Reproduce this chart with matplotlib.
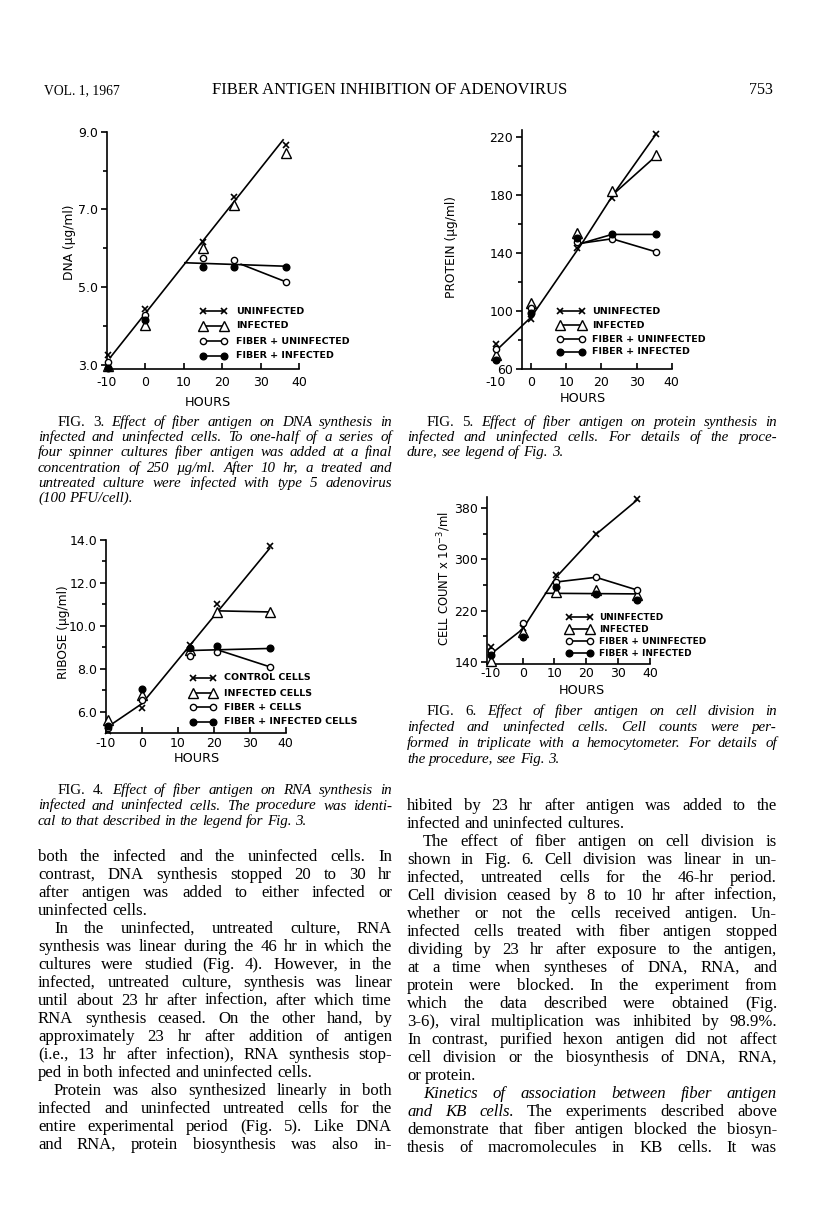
import matplotlib
matplotlib.use("Agg")
import matplotlib.pyplot as plt
from matplotlib.lines import Line2D

W, H = 816, 1227
SERIF = "Liberation Serif"
SANS = "DejaVu Sans"

hours_ticks = [-10, 0, 10, 20, 30, 40]

# Fig. 3  DNA
dna_hours = [-9.6, 0, 15, 23, 36.5]
dna_uninf = [3.25, 4.45, 6.17, 7.31, 8.66]
dna_inf = [2.97, 4.02, 6.0, 7.11, 8.44]
dna_fib_uninf = [3.08, 4.28, 5.76, 5.70, 5.14]
dna_fib_inf = [2.92, 4.15, 5.52, 5.52, 5.52]
dna_main_x, dna_main_y = [-9.1, 35.8], [3.19, 8.79]
dna_flat_x, dna_flat_y = [10.3, 36.6], [5.63, 5.54]
dna_fu_x, dna_fu_y = [24.9, 36.5], [5.59, 5.14]

# Fig. 4  RNA (ribose)
rna_hours = [-9.5, 0, 13.5, 21, 35.5]
rna_control = [5.1, 6.2, 9.1, 11.0, 13.7]
rna_inf = [5.6, 6.8, 8.9, 10.65, 10.65]
rna_fib = [5.25, 6.55, 8.6, 8.8, 8.1]
rna_fib_inf = [5.35, 7.05, 8.95, 9.05, 8.95]
rna_main_x, rna_main_y = [-9.5, 0, 35.5], [5.3, 6.38, 13.6]
rna_inf_x, rna_inf_y = [21.5, 35.5], [10.7, 10.65]
rna_flat_x, rna_flat_y = [12.2, 35.5], [8.85, 8.95]
rna_fu_x, rna_fu_y = [21.5, 35.5], [8.86, 8.1]

# Fig. 5  protein
prot_hours = [-10, 0, 13, 23, 35.5]
prot_uninf = [77.5, 94.5, 143.5, 178, 222]
prot_inf = [70, 106, 154, 183, 207.5]
prot_fib_uninf = [74, 102, 147.5, 150, 141]
prot_fib_inf = [66.5, 98.5, 150.5, 153.5, 153.5]
prot_main_x, prot_main_y = [-9.5, 0, 14.5, 23.5, 35.5], [74, 96, 147, 181, 222]
prot_inf_x, prot_inf_y = [23.5, 35.5], [181, 207]
prot_fi_x, prot_fi_y = [14.5, 23, 35.5], [147, 153, 153]
prot_fu_x, prot_fu_y = [14.5, 23, 35.5], [147, 150, 141]

# Fig. 6  cell count
cell_hours = [-10, 0, 10.5, 23, 36]
cell_uninf = [163, 192, 275, 339, 394]
cell_inf = [141, 187, 249, 252, 244]
cell_fib_uninf = [157, 200, 265, 272, 252]
cell_fib_inf = [151, 179, 257, 246, 237]
cell_main_x, cell_main_y = [-10, 0, 10.5, 23, 36], [152, 191, 272, 339, 393]
cell_flat_x, cell_flat_y = [7.2, 36], [247, 246]
cell_fu_x, cell_fu_y = [9.5, 23, 36], [264, 272, 252]

MARK = {
    "x": dict(marker="x", ms=4.5, mew=1.2, mfc="k", mec="k"),
    "tri": dict(marker="^", ms=6.5, mew=1.0, mfc="white", mec="k"),
    "oc": dict(marker="o", ms=4.5, mew=1.0, mfc="white", mec="k"),
    "fc": dict(marker="o", ms=4.8, mew=1.0, mfc="k", mec="k"),
}

fig = plt.figure(figsize=(W / 100, H / 100), dpi=100)
fig.patch.set_facecolor("white")


def fx(x):
    return x / W


def fy(y):
    return 1 - y / H


def make_axes(left, top, right, bottom):
    return fig.add_axes([fx(left), fy(bottom), (right - left) / W, (bottom - top) / H])


def style(ax, xlim, ylim, yt, ylab, yminor, xpad=3):
    ax.set_xlim(*xlim)
    ax.set_ylim(*ylim)
    ax.patch.set_alpha(0)
    for s in ("top", "right"):
        ax.spines[s].set_visible(False)
    for s in ("left", "bottom"):
        ax.spines[s].set_linewidth(1.2)
    ax.set_xticks(hours_ticks)
    ax.set_xticklabels([str(t) for t in hours_ticks], family=SANS)
    ax.set_yticks(yt)
    ax.set_yticklabels(ylab, family=SANS)
    ax.set_yticks(yminor, minor=True)
    ax.tick_params(axis="x", direction="in", length=4, width=1.2, pad=xpad, labelsize=9)
    ax.tick_params(axis="y", direction="out", length=4.5, width=1.2, pad=2, labelsize=9)
    ax.tick_params(axis="y", which="minor", direction="out", length=3, width=1.2)


def points(ax, x, series):
    for ys, key in series:
        ax.plot(x, ys, ls="none", color="k", clip_on=False, zorder=3, **MARK[key])


def curves(ax, pairs):
    for xs, ys in pairs:
        ax.plot(xs, ys, color="k", lw=1.2, zorder=2, clip_on=False)


def legend(xm, gap, xt, rows_y, entries, size=6.8):
    for y, (key, label) in zip(rows_y, entries):
        fig.add_artist(Line2D([fx(xm), fx(xm + gap)], [fy(y), fy(y)], color="k", lw=1.2,
                              transform=fig.transFigure, **MARK[key]))
        fig.text(fx(xt), fy(y), label, fontsize=size, family=SANS, weight="bold",
                 va="center", ha="left")


def axis_labels(ylab, ypos, hpos, ysize=8.8):
    fig.text(fx(ypos[0]), fy(ypos[1]), ylab, rotation=90, ha="center", va="center",
             fontsize=ysize, family=SANS)
    fig.text(fx(hpos[0]), fy(hpos[1]), "HOURS", ha="center", va="center",
             fontsize=9.2, family=SANS)


# ---- Fig. 3
ax3 = make_axes(106.7, 131.7, 299.3, 369.3)
style(ax3, (-10, 40), (2.89, 9.0), [3, 5, 7, 9], ["3.0", "5.0", "7.0", "9.0"], [4, 6, 8], xpad=5)
curves(ax3, [(dna_main_x, dna_main_y), (dna_flat_x, dna_flat_y), (dna_fu_x, dna_fu_y)])
points(ax3, dna_hours, [(dna_uninf, "x"), (dna_inf, "tri"), (dna_fib_uninf, "oc"), (dna_fib_inf, "fc")])
legend(202.7, 21, 236, [311, 325.7, 341, 355.7],
       [("x", "UNINFECTED"), ("tri", "INFECTED"), ("oc", "FIBER + UNINFECTED"), ("fc", "FIBER + INFECTED")])
axis_labels("DNA (µg/ml)", (70, 242.7), (208, 402))

# ---- Fig. 4
ax4 = make_axes(106, 540, 285.7, 733.3)
style(ax4, (-10, 40), (5.0, 14.0), [6, 8, 10, 12, 14], ["6.0", "8.0", "10.0", "12.0", "14.0"], [7, 9, 11, 13], xpad=2.5)
curves(ax4, [(rna_main_x, rna_main_y), (rna_inf_x, rna_inf_y), (rna_flat_x, rna_flat_y), (rna_fu_x, rna_fu_y)])
points(ax4, rna_hours, [(rna_control, "x"), (rna_inf, "tri"), (rna_fib, "oc"), (rna_fib_inf, "fc")])
legend(192.7, 20, 224, [678, 693, 707, 722],
       [("x", "CONTROL CELLS"), ("tri", "INFECTED CELLS"), ("oc", "FIBER + CELLS"), ("fc", "FIBER + INFECTED CELLS")])
axis_labels("RIBOSE (µg/ml)", (63, 631.7), (196.7, 758))

# ---- Fig. 5
ax5 = make_axes(489, 130, 671.7, 369.3)
style(ax5, (-12, 40), (60, 225), [60, 100, 140, 180, 220], ["60", "100", "140", "180", "220"], [80, 120, 160, 200], xpad=4.5)
ax5.spines["left"].set_position(("data", -2.5))
ax5.spines["bottom"].set_bounds(-2.5, 40)
ax5.xaxis.get_major_ticks()[0].tick1line.set_visible(False)
curves(ax5, [(prot_main_x, prot_main_y), (prot_inf_x, prot_inf_y), (prot_fi_x, prot_fi_y), (prot_fu_x, prot_fu_y)])
points(ax5, prot_hours, [(prot_uninf, "x"), (prot_inf, "tri"), (prot_fib_uninf, "oc"), (prot_fib_inf, "fc")])
legend(560, 21.7, 592, [311, 325, 339, 352],
       [("x", "UNINFECTED"), ("tri", "INFECTED"), ("oc", "FIBER + UNINFECTED"), ("fc", "FIBER + INFECTED")])
axis_labels("PROTEIN (µg/ml)", (451, 246.7), (583.3, 398))

# ---- Fig. 6
ax6 = make_axes(487, 496.7, 650, 664)
style(ax6, (-11.2, 40), (136.4, 398), [140, 220, 300, 380], ["140", "220", "300", "380"], [180, 260, 340], xpad=2.5)
curves(ax6, [(cell_main_x, cell_main_y), (cell_flat_x, cell_flat_y), (cell_fu_x, cell_fu_y)])
points(ax6, cell_hours, [(cell_uninf, "x"), (cell_inf, "tri"), (cell_fib_uninf, "oc"), (cell_fib_inf, "fc")])
legend(569, 21, 599, [617, 629, 641, 653],
       [("x", "UNINFECTED"), ("tri", "INFECTED"), ("oc", "FIBER + UNINFECTED"), ("fc", "FIBER + INFECTED")], size=6.4)
axis_labels(r"CELL COUNT x 10$^{-3}$/ml", (444, 578.3), (581.7, 691), ysize=8.4)

# ---- text
renderer = fig.canvas.get_renderer()


def width(word, size, st):
    t = fig.text(0, 0, word, fontsize=size, family=SERIF, style=st)
    w = t.get_window_extent(renderer).width
    t.remove()
    return w


def parse(text, base):
    st = base
    words = []
    for tok in text.split():
        if tok == "|":
            st = "normal" if st == "italic" else "italic"
            continue
        words.append((tok, st))
    return words


def fit_size(blocks, size0):
    # font size at which the widest justified line just fills its column
    ratio = 10.0
    for rows, x0, x1, base in blocks:
        for text, ind, just in rows:
            if not just:
                continue
            words = parse(text, base)
            nat = sum(width(w, size0, s) for w, s in words) + (len(words) - 1) * size0 * 100 / 72 * 0.25
            ratio = min(ratio, (x1 - x0 - ind) / nat)
    return size0 * ratio


def typeset(rows, x0, x1, y0, dy, size, base="normal"):
    for i, (text, ind, just) in enumerate(rows):
        y = y0 + i * dy
        words = parse(text, base)
        ws = [width(w, size, s) for w, s in words]
        left = x0 + ind
        gap = size * 100 / 72 * 0.25
        if just and len(words) > 1:
            gap = (x1 - left - sum(ws)) / (len(words) - 1)
        x = left
        for (w, s), wd in zip(words, ws):
            fig.text(fx(x), fy(y), w, fontsize=size, family=SERIF, style=s, va="baseline")
            x += wd + gap


# header
fig.text(fx(44), fy(94), "VOL. 1, 1967", fontsize=9.8, family=SERIF, va="baseline")
fig.text(fx(390), fy(94), "FIBER ANTIGEN INHIBITION OF ADENOVIRUS", fontsize=12, family=SERIF,
         va="baseline", ha="center")
fig.text(fx(773), fy(94), "753", fontsize=11.5, family=SERIF, va="baseline", ha="right")

LX0, LX1 = 38, 392
RX0, RX1 = 407, 777

cap3 = [("| FIG. 3. | Effect of fiber antigen on DNA synthesis in", 20, True),
        ("infected and uninfected cells. To one-half of a series of", 0, True),
        ("four spinner cultures fiber antigen was added at a final", 0, True),
        ("concentration of 250 µg/ml. After 10 hr, a treated and", 0, True),
        ("untreated culture were infected with type 5 adenovirus", 0, True),
        ("(100 PFU/cell).", 0, False)]
cap4 = [("| FIG. 4. | Effect of fiber antigen on RNA synthesis in", 20, True),
        ("infected and uninfected cells. The procedure was identi-", 0, True),
        ("cal to that described in the legend for Fig. 3.", 0, False)]
cap5 = [("| FIG. 5. | Effect of fiber antigen on protein synthesis in", 20, True),
        ("infected and uninfected cells. For details of the proce-", 0, True),
        ("dure, see legend of Fig. 3.", 0, False)]
cap6 = [("| FIG. 6. | Effect of fiber antigen on cell division in", 20, True),
        ("infected and uninfected cells. Cell counts were per-", 0, True),
        ("formed in triplicate with a hemocytometer. For details of", 0, True),
        ("the procedure, see Fig. 3.", 0, False)]

left_col = [
    ("both the infected and the uninfected cells. In", 0, True),
    ("contrast, DNA synthesis stopped 20 to 30 hr", 0, True),
    ("after antigen was added to either infected or", 0, True),
    ("uninfected cells.", 0, False),
    ("In the uninfected, untreated culture, RNA", 16, True),
    ("synthesis was linear during the 46 hr in which the", 0, True),
    ("cultures were studied (Fig. 4). However, in the", 0, True),
    ("infected, untreated culture, synthesis was linear", 0, True),
    ("until about 23 hr after infection, after which time", 0, True),
    ("RNA synthesis ceased. On the other hand, by", 0, True),
    ("approximately 23 hr after addition of antigen", 0, True),
    ("(i.e., 13 hr after infection), RNA synthesis stop-", 0, True),
    ("ped in both infected and uninfected cells.", 0, False),
    ("Protein was also synthesized linearly in both", 16, True),
    ("infected and uninfected untreated cells for the", 0, True),
    ("entire experimental period (Fig. 5). Like DNA", 0, True),
    ("and RNA, protein biosynthesis was also in-", 0, True),
]
right_col = [
    ("hibited by 23 hr after antigen was added to the", 0, True),
    ("infected and uninfected cultures.", 0, False),
    ("The effect of fiber antigen on cell division is", 16, True),
    ("shown in Fig. 6. Cell division was linear in un-", 0, True),
    ("infected, untreated cells for the 46-hr period.", 0, True),
    ("Cell division ceased by 8 to 10 hr after infection,", 0, True),
    ("whether or not the cells received antigen. Un-", 0, True),
    ("infected cells treated with fiber antigen stopped", 0, True),
    ("dividing by 23 hr after exposure to the antigen,", 0, True),
    ("at a time when syntheses of DNA, RNA, and", 0, True),
    ("protein were blocked. In the experiment from", 0, True),
    ("which the data described were obtained (Fig.", 0, True),
    ("3-6), viral multiplication was inhibited by 98.9%.", 0, True),
    ("In contrast, purified hexon antigen did not affect", 0, True),
    ("cell division or the biosynthesis of DNA, RNA,", 0, True),
    ("or protein.", 0, False),
    ("| Kinetics of association between fiber antigen", 16, True),
    ("| and KB cells. | The experiments described above", 0, True),
    ("demonstrate that fiber antigen blocked the biosyn-", 0, True),
    ("thesis of macromolecules in KB cells. It was", 0, True),
]

CAP = 0.95 * fit_size([(cap3, LX0, LX1, "italic"), (cap4, LX0, LX1, "italic"),
                       (cap5, RX0, RX1, "italic"), (cap6, RX0, RX1, "italic")], 10)
BODY = 0.94 * fit_size([(left_col, LX0, LX1, "normal"), (right_col, RX0, RX1, "normal")], 11)

typeset(cap3, LX0, LX1, 426, 15.2, CAP, "italic")
typeset(cap4, LX0, LX1, 794, 15.5, CAP, "italic")
typeset(cap5, RX0, RX1, 426, 14.8, CAP, "italic")
typeset(cap6, RX0, RX1, 715, 16, CAP, "italic")
typeset(left_col, LX0, LX1, 861, 18, BODY)
typeset(right_col, RX0, RX1, 810, 18, BODY)

fig.savefig("out.png", dpi=100, facecolor="white")
